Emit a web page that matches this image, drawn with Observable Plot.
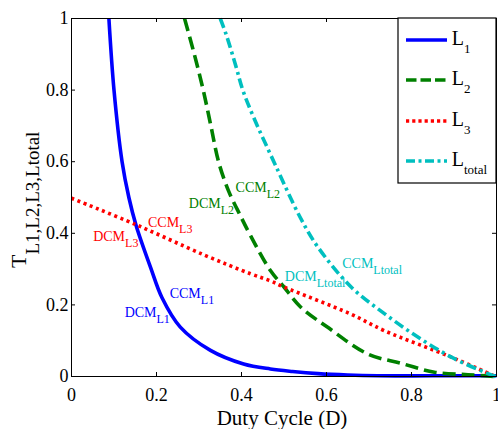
<!DOCTYPE html>
<html><head><meta charset="utf-8">
<script src="https://cdn.jsdelivr.net/npm/d3@7"></script>
<script src="https://cdn.jsdelivr.net/npm/@observablehq/plot@0.6"></script>
<style>
body{margin:0;background:#fff;}
#chart{width:498px;height:429px;}
</style></head><body><div id="chart"></div>
<script>
const FONT = "'Liberation Serif','Times New Roman',Times,serif";

// ticks
const xTicks = [0, 0.2, 0.4, 0.6, 0.8, 1];
const xTickLabels = ["0", "0.2", "0.4", "0.6", "0.8", "1"];
const yTicks = [0, 0.2, 0.4, 0.6, 0.8, 1];
const yTickLabels = ["0", "0.2", "0.4", "0.6", "0.8", "1"];

// series (duty cycle D, value T)
const seriesNames = ["L1", "L2", "L3", "Ltotal"];
const D_L1 = [0.088, 0.100, 0.119, 0.135, 0.152, 0.186, 0.213, 0.256, 0.327, 0.405, 0.468, 0.520, 0.580, 0.650, 0.720, 0.850, 1.0];
const T_L1 = [1.0, 0.80, 0.60, 0.50, 0.422, 0.305, 0.22, 0.138, 0.073, 0.035, 0.021, 0.014, 0.008, 0.004, 0.002, 0.002, 0.002];
const D_L2 = [0.266, 0.289, 0.310, 0.328, 0.346, 0.369, 0.397, 0.421, 0.468, 0.500, 0.539, 0.602, 0.697, 0.775, 0.854, 0.933, 0.998];
const T_L2 = [1.0, 0.90, 0.80, 0.70, 0.60, 0.52, 0.45, 0.394, 0.296, 0.25, 0.194, 0.138, 0.063, 0.037, 0.012, 0.005, 0.0];
const D_L3 = [0.0, 0.150, 0.311, 0.421, 0.468, 0.500, 0.656, 0.736, 0.894, 0.998];
const T_L3 = [0.498, 0.425, 0.340, 0.287, 0.267, 0.250, 0.175, 0.128, 0.054, 0.0];
const D_Lt = [0.350, 0.364, 0.387, 0.403, 0.430, 0.480, 0.537, 0.580, 0.658, 0.737, 0.815, 0.894, 0.972, 0.998];
const T_Lt = [1.0, 0.955, 0.866, 0.80, 0.72, 0.59, 0.447, 0.361, 0.25, 0.175, 0.11, 0.054, 0.012, 0.0];

// annotations
const annMain = ["DCM", "CCM", "DCM", "CCM", "DCM", "CCM", "DCM", "CCM"];
const annSub = ["L1", "L1", "L3", "L3", "L2", "L2", "Ltotal", "Ltotal"];
const annSeries = [0, 0, 2, 2, 1, 1, 3, 3];
const annD = [0.125, 0.231, 0.051, 0.180, 0.276, 0.386, 0.502, 0.637];
const annT = [0.165, 0.218, 0.378, 0.417, 0.472, 0.515, 0.268, 0.304];

// styles
const colors = ["#0000ff", "#008000", "#ff0000", "#00bfbf"];
const dashes = [null, "13,6", "3,3.6", "10,4,3,4"];
const legendDashes = [null, "10.5,4", "3.2,3", "9,3.5,3,3.5"];
const W = 498, H = 429, mL = 71, mR = 2, mT = 18, mB = 53;
const plotW = W - mL - mR, plotH = H - mT - mB;

const seriesD = [D_L1, D_L2, D_L3, D_Lt];
const seriesT = [T_L1, T_L2, T_L3, T_Lt];
const seriesRows = seriesD.map((ds, k) => ds.map((d, i) => ({D: d, T: seriesT[k][i]})));
const ann = annMain.map((m, i) => ({x: annD[i], y: annT[i], main: m, sub: annSub[i], s: annSeries[i]}));

const ctx = document.createElement("canvas").getContext("2d");
function textW(t, fs) { ctx.font = `${fs}px ${FONT}`; return ctx.measureText(t).width; }

const marks = [];
seriesRows.forEach((rows, k) => {
  marks.push(Plot.line(rows, {x: "D", y: "T", stroke: colors[k], strokeWidth: 3.6,
    strokeDasharray: dashes[k] || undefined, strokeLinecap: "butt", curve: "catmull-rom"}));
});
const fsMain = 14, fsSub = 12;
marks.push(Plot.text(ann, {x: "x", y: "y", text: "main", fill: d => colors[d.s], fontSize: fsMain,
  fontFamily: FONT, textAnchor: "start", dy: -0.32 * fsMain}));
ann.forEach(a => {
  marks.push(Plot.text([a], {x: "x", y: "y", text: "sub", fill: colors[a.s], fontSize: fsSub,
    fontFamily: FONT, textAnchor: "start", dx: textW(a.main, fsMain), dy: -0.32 * fsSub + 6}));
});
marks.push(
  Plot.frame({stroke: "black", strokeWidth: 1}),
  Plot.tickX(xTicks, {x: d => d, insetTop: plotH - 4, stroke: "black"}),
  Plot.tickX(xTicks, {x: d => d, insetBottom: plotH - 4, stroke: "black"}),
  Plot.tickY(yTicks, {y: d => d, insetRight: plotW - 4, stroke: "black"}),
  Plot.tickY(yTicks, {y: d => d, insetLeft: plotW - 4, stroke: "black"}),
  Plot.axisX(xTicks, {tickSize: 0, tickPadding: 12, fontSize: 18, fontFamily: FONT,
    tickFormat: d => xTickLabels[xTicks.indexOf(d)], label: null}),
  Plot.axisY(yTicks, {tickSize: 0, tickPadding: 3, fontSize: 18, fontFamily: FONT,
    tickFormat: d => yTickLabels[yTicks.indexOf(d)], label: null})
);

const svg = Plot.plot({
  width: W, height: H, marginLeft: mL, marginRight: mR, marginTop: mT, marginBottom: mB,
  x: {domain: [0, 1], label: null},
  y: {domain: [0, 1], label: null},
  style: {background: "white", fontFamily: FONT, color: "black", overflow: "visible"},
  marks
});
document.getElementById("chart").appendChild(svg);

const s = d3.select(svg);
// x label
s.append("text").attr("x", 282).attr("y", 425).attr("text-anchor", "middle")
  .attr("font-family", FONT).attr("font-size", 21).attr("fill", "black").text("Duty Cycle (D)");
// y label
const yl = s.append("text").attr("transform", "translate(25.5,268) rotate(-90)")
  .attr("text-anchor", "start").attr("font-family", FONT).attr("fill", "black");
yl.append("tspan").attr("font-size", 22).text("T");
yl.append("tspan").attr("font-size", 19).attr("dy", 13.5).text("L1,L2,L3,Ltotal");

// legend
const lg = s.append("g");
lg.append("rect").attr("x", 398).attr("y", 18).attr("width", 98).attr("height", 165)
  .attr("fill", "white").attr("stroke", "black").attr("stroke-width", 1.2);
const rowY = [40, 80, 121, 161];
seriesNames.forEach((n, k) => {
  lg.append("line").attr("x1", 406).attr("x2", 447).attr("y1", rowY[k]).attr("y2", rowY[k])
    .attr("stroke", colors[k]).attr("stroke-width", 3.6)
    .attr("stroke-dasharray", legendDashes[k]);
  const t = lg.append("text").attr("x", 451.7).attr("y", rowY[k] + 5)
    .attr("text-anchor", "start").attr("font-family", FONT).attr("fill", "black");
  t.append("tspan").attr("font-size", 20).text("L");
  t.append("tspan").attr("font-size", 13).attr("dy", 8).text(n.slice(1));
});
</script></body></html>
